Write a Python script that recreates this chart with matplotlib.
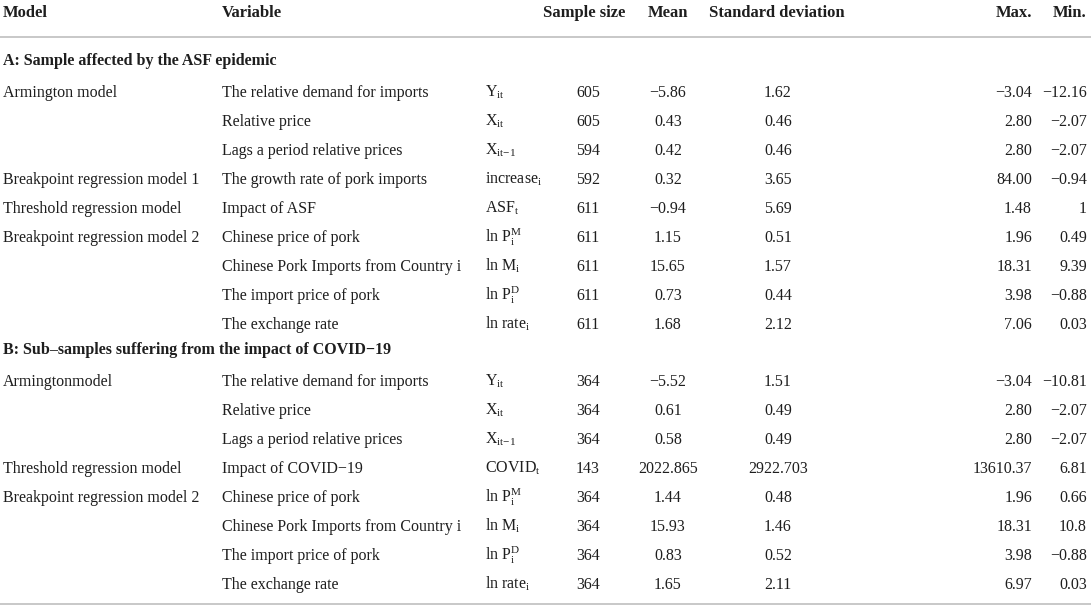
import matplotlib
matplotlib.use("Agg")
import matplotlib.pyplot as plt

# table header
headers = ["Model", "Variable", "Sample size", "Mean", "Standard deviation", "Max.", "Min."]

# panel A: sample affected by the ASF epidemic
title_a = "A: Sample affected by the ASF epidemic"
models_a = ["Armington model", "", "", "Breakpoint regression model 1", "Threshold regression model",
            "Breakpoint regression model 2", "", "", ""]
vars_a = ["The relative demand for imports", "Relative price", "Lags a period relative prices",
          "The growth rate of pork imports", "Impact of ASF", "Chinese price of pork",
          "Chinese Pork Imports from Country i", "The import price of pork", "The exchange rate"]
symbols_a = [r"$\mathrm{Y_{it}}$", r"$\mathrm{X_{it}}$", r"$\mathrm{X_{it{-}1}}$", r"increase$_\mathrm{i}$",
             r"$\mathrm{ASF_{t}}$", r"$\mathrm{ln\ P_{i}^{M}}$", r"$\mathrm{ln\ M_{i}}$",
             r"$\mathrm{ln\ P_{i}^{D}}$", r"ln rate$_\mathrm{i}$"]
n_a = [605, 605, 594, 592, 611, 611, 611, 611, 611]
mean_a = ["\u22125.86", "0.43", "0.42", "0.32", "\u22120.94", "1.15", "15.65", "0.73", "1.68"]
sd_a = ["1.62", "0.46", "0.46", "3.65", "5.69", "0.51", "1.57", "0.44", "2.12"]
max_a = ["\u22123.04", "2.80", "2.80", "84.00", "1.48", "1.96", "18.31", "3.98", "7.06"]
min_a = ["\u221212.16", "\u22122.07", "\u22122.07", "\u22120.94", "1", "0.49", "9.39", "\u22120.88", "0.03"]

# panel B: sub-samples suffering from COVID-19
title_b = "B: Sub\u2013samples suffering from the impact of COVID\u221219"
models_b = ["Armingtonmodel", "", "", "Threshold regression model", "Breakpoint regression model 2", "", "", ""]
vars_b = ["The relative demand for imports", "Relative price", "Lags a period relative prices",
          "Impact of COVID\u221219", "Chinese price of pork", "Chinese Pork Imports from Country i",
          "The import price of pork", "The exchange rate"]
symbols_b = [r"$\mathrm{Y_{it}}$", r"$\mathrm{X_{it}}$", r"$\mathrm{X_{it{-}1}}$", r"$\mathrm{COVID_{t}}$",
             r"$\mathrm{ln\ P_{i}^{M}}$", r"$\mathrm{ln\ M_{i}}$", r"$\mathrm{ln\ P_{i}^{D}}$",
             r"ln rate$_\mathrm{i}$"]
n_b = [364, 364, 364, 143, 364, 364, 364, 364]
mean_b = ["\u22125.52", "0.61", "0.58", "2022.865", "1.44", "15.93", "0.83", "1.65"]
sd_b = ["1.51", "0.49", "0.49", "2922.703", "0.48", "1.46", "0.52", "2.11"]
max_b = ["\u22123.04", "2.80", "2.80", "13610.37", "1.96", "18.31", "3.98", "6.97"]
min_b = ["\u221210.81", "\u22122.07", "\u22122.07", "6.81", "0.66", "10.8", "\u22120.88", "0.03"]

plt.rcParams["font.family"] = ["Liberation Serif", "DejaVu Serif"]
plt.rcParams["mathtext.fontset"] = "custom"
plt.rcParams["mathtext.rm"] = "Liberation Serif"
plt.rcParams["mathtext.it"] = "Liberation Serif:italic"
plt.rcParams["mathtext.bf"] = "Liberation Serif:bold"

TXT = "#1e1e1e"
FS = 11.5
W, H = 1091, 609

fig = plt.figure(figsize=(W / 100, H / 100), dpi=100)
ax = fig.add_axes([0, 0, 1, 1])
ax.set_xlim(0, W)
ax.set_ylim(H, 0)
ax.axis("off")

# column x positions and alignment
col_x = [3, 222, 485, 588, 668, 778, 1032, 1087]
col_ha = ["left", "left", "left", "center", "center", "center", "right", "right"]
head_x = [3, 222, 584, 668, 777, 1032, 1087]
head_ha = ["left", "left", "center", "center", "center", "right", "right"]

for x, ha, h in zip(head_x, head_ha, headers):
    ax.text(x, 17, h, ha=ha, va="baseline", fontsize=12, fontweight="bold", color=TXT)

ax.plot([0, W], [37, 37], color="#c4c4c4", lw=1.3)
ax.plot([0, W], [604, 604], color="#c4c4c4", lw=1.3)


def draw_panel(y0, title, models, vars_, symbols, n, mean, sd, mx, mn):
    ax.text(3, y0 + 5, title, ha="left", va="baseline", fontsize=FS, fontweight="bold", color=TXT)
    for i in range(len(vars_)):
        y = y0 + 32 + 29 * i + 5
        cells = [models[i], vars_[i], symbols[i], str(n[i]), mean[i], sd[i], mx[i], mn[i]]
        for x, ha, c in zip(col_x, col_ha, cells):
            ax.text(x, y, c, ha=ha, va="baseline", fontsize=FS, color=TXT)


draw_panel(60, title_a, models_a, vars_a, symbols_a, n_a, mean_a, sd_a, max_a, min_a)
draw_panel(349, title_b, models_b, vars_b, symbols_b, n_b, mean_b, sd_b, max_b, min_b)

fig.savefig("out.png", dpi=100, facecolor="white")
